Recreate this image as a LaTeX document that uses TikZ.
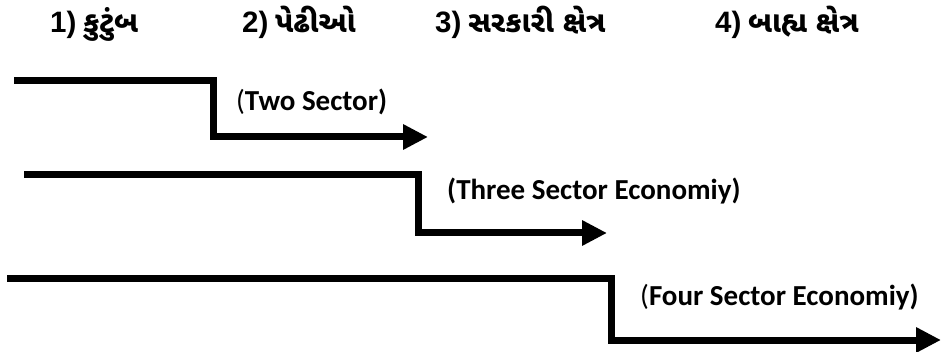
\documentclass[tikz,border=0pt]{standalone}
\usepackage{fontspec}
\usetikzlibrary{arrows.meta}
\setmainfont{Carlito}
\newfontfamily\gujfont[Script=Gujarati]{Noto Sans Gujarati UI}
\newfontfamily\digfont{Liberation Sans}
\tikzset{
  flow/.style={line width=7pt, line join=miter, -{Triangle[length=25pt,width=24pt]}},
  head/.style={anchor=base west, inner sep=0pt, font=\fontsize{29.5}{34}\selectfont},
  lab/.style={anchor=west, inner sep=0pt, font=\fontsize{29}{34}\selectfont\bfseries},
}
\begin{document}
\begin{tikzpicture}[x=1pt,y=-1pt]
\useasboundingbox (0,0) rectangle (941,352);
% headings
\node[head] (h1) at (50,33) {{\digfont\bfseries 1)} {\gujfont\bfseries કુટુંબ}};
\node[head] (h2) at (242,33) {{\digfont\bfseries 2)} {\gujfont\bfseries પેઢીઓ}};
\node[head] (h3) at (435,33) {{\digfont\bfseries 3)} {\gujfont\bfseries સરકારી ક્ષેત્ર}};
\node[head] (h4) at (715,33) {{\digfont\bfseries 4)} {\gujfont\bfseries બાહ્ય ક્ષેત્ર}};
% flow 1
\coordinate (s1) at (14,81);
\coordinate (k1) at (213,81);
\coordinate (l1) at (213,137);
\coordinate (e1) at (428,137);
\draw[flow] (s1) -- (k1) -- (l1) -- (e1);
\node[lab] (t1) at (236,102) {\mdseries(\bfseries Two Sector)};
% flow 2
\coordinate (s2) at (24,175);
\coordinate (k2) at (418,175);
\coordinate (l2) at (418,233);
\coordinate (e2) at (607,233);
\draw[flow] (s2) -- (k2) -- (l2) -- (e2);
\node[lab] (t2) at (447,191) {(Three Sector Economiy)};
% flow 3
\coordinate (s3) at (7,279);
\coordinate (k3) at (611,279);
\coordinate (l3) at (611,340);
\coordinate (e3) at (941,340);
\draw[flow] (s3) -- (k3) -- (l3) -- (e3);
\node[lab] (t3) at (640,297) {\mdseries(\bfseries Four Sector Economiy)};
\end{tikzpicture}
\end{document}
